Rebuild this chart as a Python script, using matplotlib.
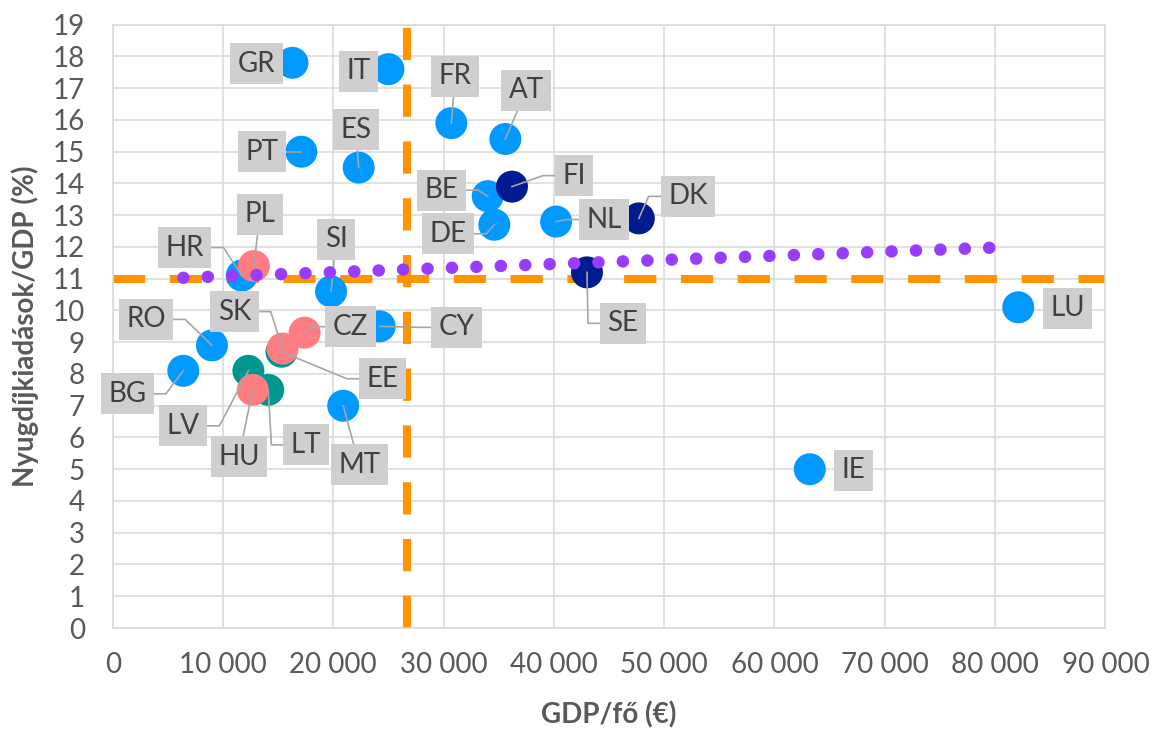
import matplotlib
matplotlib.use("Agg")
import matplotlib.pyplot as plt
import numpy as np
from matplotlib.ticker import FuncFormatter, MultipleLocator

plt.rcParams['font.family'] = ['Lato', 'DejaVu Sans']

# Országok: egy főre jutó GDP (€) és nyugdíjkiadások a GDP %-ában
orszagok = ['GR', 'IT', 'FR', 'AT', 'PT', 'ES', 'BE', 'DE', 'FI', 'NL', 'DK', 'SE',
            'CY', 'SI', 'HR', 'RO', 'BG', 'MT', 'LU', 'IE',
            'LV', 'LT', 'EE', 'PL', 'SK', 'CZ', 'HU']
gdp_fo = [16300, 25000, 30700, 35600, 17100, 22300, 34000, 34600, 36200, 40200, 47700, 43000,
          24200, 19800, 11700, 9000, 6400, 20900, 82100, 63200,
          12300, 14100, 15300, 12800, 15400, 17400, 12700]
nyugdij = [17.8, 17.6, 15.9, 15.4, 15.0, 14.5, 13.6, 12.7, 13.9, 12.8, 12.9, 11.2,
           9.5, 10.6, 11.1, 8.9, 8.1, 7.0, 10.1, 5.0,
           8.1, 7.5, 8.7, 11.4, 8.8, 9.3, 7.5]
csoport = [0, 0, 0, 0, 0, 0, 0, 0, 1, 0, 1, 1,
           0, 0, 0, 0, 0, 0, 0, 0,
           2, 2, 2, 3, 3, 3, 3]

# EU-átlagok (szaggatott vonalak) és a trendvonal végpontjai
eu_gdp_atlag = 26650
eu_nyugdij_atlag = 11.0
trend_x = [6400, 79900]
trend_y = [11.03, 11.98]

szinek = ['#0099FF', '#001A8F', '#009690', '#FF7C80']

# címkék eltolása a ponthoz képest (pixel), vezetővonal nélküli címkék
cimke_eltolas = {
    'GR': (-36, -1), 'IT': (-30, -2), 'FR': (4, 47), 'AT': (21, 49), 'PT': (-39, 0),
    'ES': (-3, 38), 'BE': (-46, 6), 'FI': (62, 11), 'DE': (-46, -9), 'NL': (48, 2),
    'DK': (49, 22), 'SE': (36, -51), 'CY': (77, -1), 'SI': (5, 52), 'HR': (-57, 28),
    'PL': (6, 52), 'RO': (-66, 26), 'SK': (-48, 37), 'CZ': (46, 6), 'EE': (101, -27),
    'BG': (-56, -23), 'LV': (-65, -55), 'HU': (-14, -67), 'LT': (38, -55),
    'MT': (16, -59), 'LU': (49, -1), 'IE': (44, -1),
}
nincs_vonal = {'GR', 'IT', 'LU', 'IE'}

fig = plt.figure(figsize=(11.58, 7.31), dpi=100)
ax = fig.add_axes([0.09732, 0.14090, 0.85725, 0.82531])

ax.set_xlim(0, 90000)
ax.set_ylim(0, 19)
ax.xaxis.set_major_locator(MultipleLocator(10000))
ax.yaxis.set_major_locator(MultipleLocator(1))
ax.xaxis.set_major_formatter(FuncFormatter(lambda v, p: f'{int(v):,}'.replace(',', ' ')))
ax.grid(True, color='#D9D9D9', lw=1.1, zorder=0)
ax.set_axisbelow(True)
for s in ax.spines.values():
    s.set_color('#D9D9D9')
    s.set_linewidth(1.1)
ax.tick_params(length=0, labelsize=20, labelcolor='#595959')
ax.tick_params(axis='y', pad=20)
ax.tick_params(axis='x', pad=17)

ax.set_xlabel('GDP/fő (€)', fontsize=20, fontweight='bold', color='#595959', va='center')
ax.set_ylabel('Nyugdíjkiadások/GDP (%)', fontsize=20, fontweight='bold', color='#595959',
              va='center')
ax.xaxis.set_label_coords(0.5, -0.144)
ax.yaxis.set_label_coords(-0.088, 0.5)

# átlagvonalak
ax.plot([eu_gdp_atlag, eu_gdp_atlag], [0, 19], color='#FF9400', lw=5.8,
        linestyle=(0, (4, 3.05)), dash_capstyle='butt', zorder=2)
ax.plot([0, 90000], [eu_nyugdij_atlag, eu_nyugdij_atlag], color='#FF9400', lw=5.8,
        linestyle=(0, (4, 3.05)), dash_capstyle='butt', zorder=2)

gdp_arr = np.array(gdp_fo)
ny_arr = np.array(nyugdij)
cs_arr = np.array(csoport)
for c in range(4):
    m = cs_arr == c
    ax.scatter(gdp_arr[m], ny_arr[m], s=530, color=szinek[c], edgecolors='none', zorder=3)

# pontozott trendvonal
ax.plot(trend_x, trend_y, color='#9A3CFF', lw=9, linestyle=(0, (0.01, 1.945)),
        dash_capstyle='round', zorder=6)

cimkek = {}
for o, x, y in zip(orszagok, gdp_fo, nyugdij):
    dx, dy = cimke_eltolas[o]
    t = ax.annotate(o, (x, y), xytext=(dx, dy), textcoords='offset pixels',
                    ha='center', va='center', fontsize=20, color='#404040', zorder=7,
                    bbox=dict(boxstyle='square,pad=0.27', fc='#D0CECE', ec='none'))
    cimkek[o] = t

# vezetővonalak a címkedobozok szélétől a pontokig
fig.canvas.draw()
r = fig.canvas.get_renderer()
inv = ax.transData.inverted()
for o, x, y in zip(orszagok, gdp_fo, nyugdij):
    if o in nincs_vonal:
        continue
    bb = cimkek[o].get_bbox_patch().get_window_extent(r)
    px, py = ax.transData.transform((x, y))
    lx, ly = (bb.x0 + bb.x1) / 2, (bb.y0 + bb.y1) / 2
    hw, hh = bb.width / 2, bb.height / 2
    dx, dy = lx - px, ly - py
    if abs(dx) > hw:
        ex = lx - np.sign(dx) * hw
        pts = [(ex, ly), (ex - np.sign(dx) * 12, ly), (px, py)]
    else:
        ey = ly - np.sign(dy) * hh
        ex = px + dx * (ey - py) / dy
        pts = [(ex, ey), (px, py)]
    d = inv.transform(pts)
    ax.plot(d[:, 0], d[:, 1], color='#A6A6A6', lw=1.2, zorder=4, clip_on=False)

fig.savefig('out.png', dpi=100)
